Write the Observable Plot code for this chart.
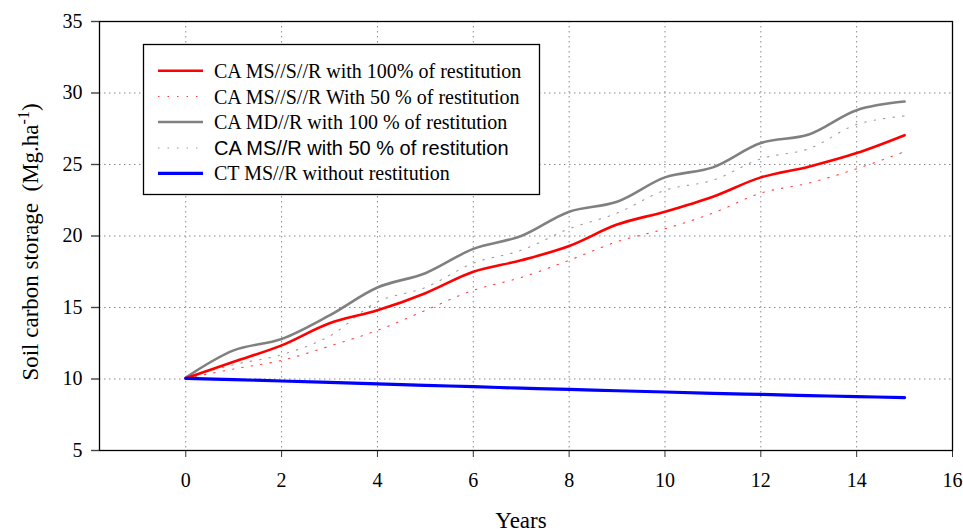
<!DOCTYPE html>
<html>
<head>
<meta charset="utf-8">
<script src="https://cdn.jsdelivr.net/npm/d3@7"></script>
<script src="https://cdn.jsdelivr.net/npm/@observablehq/plot@0.6"></script>
<style>
  html, body { margin: 0; padding: 0; background: #fff; }
  #chart { position: relative; width: 963px; height: 532px; }
</style>
</head>
<body>
<div id="chart"></div>
<script>
// ---- Data ----
const years = [0, 1, 2, 3, 4, 5, 6, 7, 8, 9, 10, 11, 12, 13, 14, 15];
const caMSSR100 = [10.05, 11.2, 12.35, 13.9, 14.8, 16.0, 17.5, 18.3, 19.3, 20.8, 21.7, 22.75, 24.1, 24.85, 25.8, 27.05];
const caMSSR50  = [10.05, 10.7, 11.3, 12.3, 13.4, 14.8, 16.2, 17.1, 18.3, 19.6, 20.5, 21.6, 23.0, 23.7, 24.7, 25.9];
const caMDR100  = [10.1, 12.0, 12.8, 14.45, 16.4, 17.4, 19.1, 20.0, 21.7, 22.4, 24.1, 24.8, 26.5, 27.1, 28.8, 29.4];
const caMSR50   = [10.1, 11.0, 11.7, 13.0, 15.4, 16.4, 18.1, 19.0, 20.5, 21.6, 23.2, 23.9, 25.4, 26.1, 27.8, 28.4];
const ctMSR     = [10.05, 9.96, 9.86, 9.76, 9.66, 9.56, 9.46, 9.36, 9.27, 9.18, 9.09, 9.0, 8.92, 8.84, 8.77, 8.7];

const seriesNames = [
  "CA MS//S//R with 100% of restitution",
  "CA MS//S//R With 50 % of restitution",
  "CA MD//R with 100 % of restitution",
  "CA MS//R with 50 % of restitution",
  "CT MS//R without restitution"
];
const xTicks = [0, 2, 4, 6, 8, 10, 12, 14, 16];
const yTicks = [5, 10, 15, 20, 25, 30, 35];
const xLabel = "Years";
const yLabel = "Soil carbon storage  (Mg.ha";

// ---- Styles ----
const styles = [
  {stroke: "#ff0000", strokeWidth: 2.6, dash: null, font: "Liberation Serif"},
  {stroke: "#ff4040", strokeWidth: 1.1, dash: "1.5,8", font: "Liberation Serif"},
  {stroke: "#808080", strokeWidth: 2.6, dash: null, font: "Liberation Serif"},
  {stroke: "#9a9a9a", strokeWidth: 1.1, dash: "1.5,8", font: "Liberation Sans"},
  {stroke: "#0000ff", strokeWidth: 3.2, dash: null, font: "Liberation Serif"}
];
const allSeries = [caMSSR100, caMSSR50, caMDR100, caMSR50, ctMSR];

const toRows = (vals) => years.map((y, i) => ({year: y, value: vals[i]}));

const W = 963, H = 532;
const mL = 99, mR = 11, mT = 21, mB = 82;

const lineMarks = allSeries.map((vals, i) => Plot.line(toRows(vals), {
  x: "year", y: "value",
  stroke: styles[i].stroke,
  strokeWidth: styles[i].strokeWidth,
  strokeDasharray: styles[i].dash,
  curve: "catmull-rom"
}));
const order = [1, 3, 2, 0, 4];

const chart = Plot.plot({
  width: W, height: H,
  marginLeft: mL, marginRight: mR, marginTop: mT, marginBottom: mB,
  style: {fontFamily: "'Liberation Serif', 'Times New Roman', serif", fontSize: "20px", background: "#fff", color: "#000"},
  x: {domain: [-1.8, 16], axis: null},
  y: {domain: [5, 35], axis: null},
  marks: [
    Plot.gridX(xTicks.filter(d => d < 16), {stroke: "#8a8a8a", strokeOpacity: 1, strokeDasharray: "1.5,3.5", strokeWidth: 1}),
    Plot.gridY(yTicks.filter(d => d > 5 && d < 35), {stroke: "#8a8a8a", strokeOpacity: 1, strokeDasharray: "1.5,3.5", strokeWidth: 1}),
    Plot.axisX(xTicks, {anchor: "bottom", tickSize: 7, tickPadding: 15, label: null, stroke: "#333", fill: "#000", fontSize: 20}),
    Plot.axisY(yTicks, {anchor: "left", tickSize: 8, tickPadding: 9, label: null, stroke: "#444", strokeWidth: 1.4, fill: "#000", fontSize: 20}),
    ...order.map(i => lineMarks[i]),
    Plot.frame({stroke: "#000", strokeWidth: 1.3})
  ]
});

document.getElementById("chart").appendChild(chart);

// ---- Legend and axis titles ----
const svg = d3.select(chart);
const lg = svg.append("g").attr("text-anchor", "start");
lg.append("rect")
  .attr("x", 143.5).attr("y", 44.5).attr("width", 396).attr("height", 150)
  .attr("fill", "#fff").attr("stroke", "#000").attr("stroke-width", 1.3);
const rowY = [70.7, 96.5, 122, 148, 173.3];
seriesNames.forEach((name, i) => {
  lg.append("line")
    .attr("x1", 158).attr("x2", 203).attr("y1", rowY[i]).attr("y2", rowY[i])
    .attr("stroke", styles[i].stroke)
    .attr("stroke-width", styles[i].dash ? 1.1 : styles[i].strokeWidth)
    .attr("stroke-dasharray", styles[i].dash);
  lg.append("text")
    .attr("x", 214).attr("y", rowY[i] + 7)
    .attr("text-anchor", "start")
    .attr("font-family", styles[i].font)
    .attr("font-size", 20)
    .attr("fill", "#000")
    .text(name);
});

svg.append("text")
  .attr("x", 521).attr("y", 528)
  .attr("text-anchor", "middle")
  .attr("font-family", "Liberation Serif")
  .attr("font-size", 23)
  .attr("fill", "#000")
  .text(xLabel);

const yl = svg.append("text")
  .attr("transform", "translate(38,242) rotate(-90)")
  .attr("text-anchor", "middle")
  .attr("font-family", "Liberation Serif")
  .attr("font-size", 23)
  .attr("fill", "#000");
yl.append("tspan").text(yLabel);
yl.append("tspan").attr("dy", -9).attr("font-size", 16).text("-1");
yl.append("tspan").attr("dy", 9).text(")");
</script>
</body>
</html>
